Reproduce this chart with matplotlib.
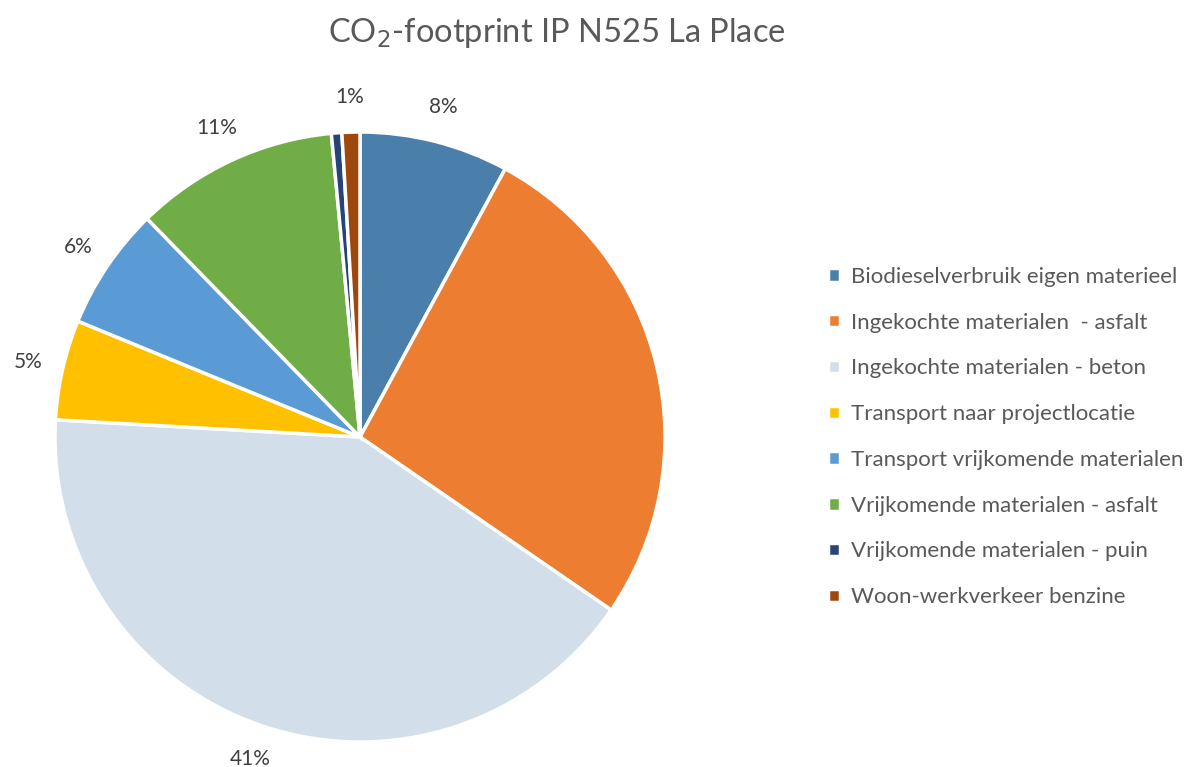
import matplotlib
matplotlib.use("Agg")
import matplotlib.pyplot as plt
import numpy as np

categories = [
    "Biodieselverbruik eigen materieel",
    "Ingekochte materialen  - asfalt",
    "Ingekochte materialen - beton",
    "Transport naar projectlocatie",
    "Transport vrijkomende materialen",
    "Vrijkomende materialen - asfalt",
    "Vrijkomende materialen - puin",
    "Woon-werkverkeer benzine",
]
values = [7.9, 26.7, 41.3, 5.3, 6.5, 10.8, 0.55, 0.95]
labels = ["8%", "", "41%", "5%", "6%", "11%", "", "1%"]
colors = ["#4A7EAB", "#ED7D31", "#D2DFEA", "#FFC000", "#5B9BD5", "#70AD47", "#264478", "#9E480E"]

plt.rcParams['font.family'] = ['Lato', 'DejaVu Sans']
TXT = "#595959"
LBL = "#404040"

fig = plt.figure(figsize=(11.89, 7.67), dpi=100)
ax = fig.add_axes([55/1189, 25/767, 610/1189, 610/767])
wedges, _ = ax.pie(values, colors=colors, startangle=90, counterclock=False,
                   radius=1.0, wedgeprops=dict(edgecolor="white", linewidth=2.5))
ax.set_xlim(-1, 1)
ax.set_ylim(-1, 1)
ax.set_aspect('equal')
ax.axis('off')

for w, lab in zip(wedges, labels):
    if not lab:
        continue
    mid = np.deg2rad((w.theta1 + w.theta2) / 2)
    r = 1.115
    ax.text(r*np.cos(mid), r*np.sin(mid), lab, ha='center', va='center',
            fontsize=15, color=LBL, clip_on=False)

fig.text(557/1189, 1 - 33/767, "CO$_2$-footprint IP N525 La Place", ha='center', va='center',
         fontsize=23.5, color=TXT)

leg = fig.legend(wedges, categories, loc='center left', bbox_to_anchor=(808/1189, 1 - 437/767),
                 frameon=False, fontsize=16, labelcolor=TXT, handlelength=0.55, handleheight=0.55,
                 handletextpad=0.5, labelspacing=1.16)

fig.savefig("out.png", dpi=100)
